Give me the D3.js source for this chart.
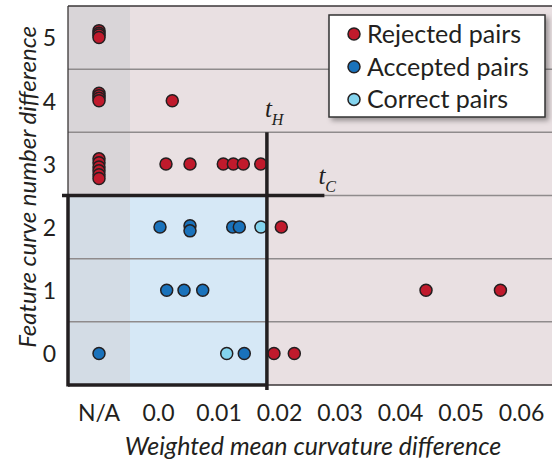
<!DOCTYPE html>
<html><head><meta charset="utf-8">
<script src="https://cdn.jsdelivr.net/npm/d3@7"></script>
<style>body{margin:0;background:#fff}</style>
</head><body>
<svg id="c" width="552" height="465"></svg>
<script>
// ---------- data ----------
const yTicks = [0, 1, 2, 3, 4, 5];
const xTicks = [0, 0.01, 0.02, 0.03, 0.04, 0.05, 0.06];
const xTickLabels = ["0.0", "0.01", "0.02", "0.03", "0.04", "0.05", "0.06"];
const naCategory = ["N/A"];
const tH = 0.018;       // curvature threshold
const tC = 2.5;         // curve-number threshold
const tCLineEnd = 0.0275;
const seriesNames = ["Rejected pairs", "Accepted pairs", "Correct pairs"];

// "NA" = not available (drawn in the N/A column)
const rejectedX = ["NA","NA","NA","NA", "NA","NA","NA","NA", "NA","NA","NA","NA","NA","NA",
  0.00236, 0.00132, 0.00529, 0.01079, 0.01245, 0.0141, 0.01698, 0.02038, 0.0443, 0.0566, 0.01917, 0.02253];
const rejectedY = [5.11, 5.07, 5.04, 5.0, 4.12, 4.08, 4.04, 4.0, 3.08, 3.02, 2.95, 2.89, 2.83, 2.77,
  4, 3, 3, 3, 3, 3, 3, 2, 1, 1, 0, 0];
const acceptedX = ["NA", 0.01426, 0.00144, 0.0043, 0.00739, 0.00033, 0.00529, 0.00529, 0.01235, 0.01344];
const acceptedY = [0, 0, 1, 1, 1, 2, 2.02, 1.94, 2, 2];
const correctX = [0.01136, 0.01702];
const correctY = [0, 2];

// ---------- setup ----------
const svg = d3.select("#c");
const L = 68, R = 552, T = 6, B = 385, naRight = 130;
const x = d3.scaleLinear().domain([0, 0.06]).range([158, 521]);
const xna = d3.scaleBand().domain(naCategory).range([L, naRight]);
const y = d3.scaleLinear().domain([-0.5, 5.5]).range([B, T]);
const px = v => v === "NA" ? xna("N/A") + xna.bandwidth() / 2 : x(v);

const colors = { rej: "#c01a2c", acc: "#1a72bb", cor: "#84d4ee" };
const ink = "#231f20";
const fontSans = "Lato, 'Open Sans', sans-serif";

// defs: legend shadow
const defs = svg.append("defs");
const f = defs.append("filter").attr("id", "sh").attr("x", "-10%").attr("y", "-10%").attr("width", "130%").attr("height", "140%");
f.append("feDropShadow").attr("dx", 3).attr("dy", 3).attr("stdDeviation", 2.5).attr("flood-color", "#000").attr("flood-opacity", 0.35);

// ---------- backgrounds ----------
svg.append("rect").attr("x", L).attr("y", T).attr("width", R - L).attr("height", B - T).attr("fill", "#e9e0e2");
svg.append("rect").attr("x", L).attr("y", y(5.5)).attr("width", naRight - L).attr("height", y(tC) - y(5.5)).attr("fill", "#d9d5d8");
svg.append("rect").attr("x", L).attr("y", y(tC)).attr("width", naRight - L).attr("height", y(-0.5) - y(tC)).attr("fill", "#d3dce5");
svg.append("rect").attr("x", naRight).attr("y", y(tC)).attr("width", x(tH) - naRight).attr("height", y(-0.5) - y(tC)).attr("fill", "#d6e8f6");

// grid lines between rows
svg.append("g").selectAll("line").data([0.5, 1.5, 2.5, 3.5, 4.5]).join("line")
  .attr("x1", L).attr("x2", R).attr("y1", d => y(d)).attr("y2", d => y(d))
  .attr("stroke", "#8f8b8c").attr("stroke-width", 1.5);

// thin frame
svg.append("line").attr("x1", L).attr("x2", R).attr("y1", T).attr("y2", T).attr("stroke", "#3a3637").attr("stroke-width", 1.3);
svg.append("line").attr("x1", L).attr("x2", L).attr("y1", T).attr("y2", y(tC)).attr("stroke", "#3a3637").attr("stroke-width", 1.3);
svg.append("line").attr("x1", L).attr("x2", R).attr("y1", B).attr("y2", B).attr("stroke", "#3a3637").attr("stroke-width", 1.5);

// ---------- points ----------
function drawPts(xs, ys, col) {
  svg.append("g").selectAll("circle").data(xs.map((v, i) => [v, ys[i]])).join("circle")
    .attr("cx", d => px(d[0])).attr("cy", d => y(d[1])).attr("r", 6)
    .attr("fill", col).attr("stroke", ink).attr("stroke-width", 1.5);
}
drawPts(rejectedX, rejectedY, colors.rej);
drawPts(acceptedX, acceptedY, colors.acc);
drawPts(correctX, correctY, colors.cor);

// ---------- threshold box ----------
const thick = 3.5;
svg.append("line").attr("x1", L - 6).attr("x2", x(tCLineEnd)).attr("y1", y(tC)).attr("y2", y(tC)).attr("stroke", ink).attr("stroke-width", thick);
svg.append("line").attr("x1", x(tH)).attr("x2", x(tH)).attr("y1", y(3.5)).attr("y2", B + 5).attr("stroke", ink).attr("stroke-width", thick);
svg.append("line").attr("x1", L).attr("x2", L).attr("y1", y(tC)).attr("y2", B + 1.5).attr("stroke", ink).attr("stroke-width", thick);
svg.append("line").attr("x1", L).attr("x2", x(tH)).attr("y1", B).attr("y2", B).attr("stroke", ink).attr("stroke-width", thick);

// threshold labels
const serif = "'Liberation Serif', 'DejaVu Serif', serif";
const lh = svg.append("text").attr("x", x(tH) - 2).attr("y", 117).attr("font-family", serif).attr("font-style", "italic").attr("font-size", 25).attr("fill", ink);
lh.append("tspan").text("t");
lh.append("tspan").attr("font-size", 16).attr("dy", 8).text("H");
const lc = svg.append("text").attr("x", x(tCLineEnd) - 6).attr("y", 184).attr("font-family", serif).attr("font-style", "italic").attr("font-size", 25).attr("fill", ink);
lc.append("tspan").text("t");
lc.append("tspan").attr("font-size", 16).attr("dy", 8).text("C");

// ---------- axes ----------
const ax = svg.append("g").attr("transform", `translate(0,${B})`)
  .call(d3.axisBottom(x).tickValues(xTicks).tickFormat((d, i) => xTickLabels[i]).tickSize(0));
const axNA = svg.append("g").attr("transform", `translate(0,${B})`)
  .call(d3.axisBottom(xna).tickSize(0));
[ax, axNA].forEach(g => {
  g.select(".domain").remove();
  g.selectAll("text").attr("y", 36).attr("dy", 0).attr("font-family", fontSans).attr("font-size", 23).attr("fill", ink);
});
const ay = svg.append("g").attr("transform", `translate(${L},0)`)
  .call(d3.axisLeft(y).tickValues(yTicks).tickFormat(d3.format("d")).tickSize(0));
ay.select(".domain").remove();
ay.selectAll("text").attr("x", -12).attr("dy", "0.36em").attr("font-family", fontSans).attr("font-size", 23).attr("fill", ink);

// axis titles
svg.append("text").attr("x", 313).attr("y", 455).attr("text-anchor", "middle")
  .attr("font-family", fontSans).attr("font-style", "italic").attr("font-size", 25).attr("fill", ink)
  .text("Weighted mean curvature difference");
svg.append("text").attr("transform", "translate(28,187) rotate(-90)").attr("text-anchor", "middle")
  .attr("font-family", fontSans).attr("font-style", "italic").attr("font-size", 24).attr("fill", ink)
  .attr("dy", "0.35em")
  .text("Feature curve number difference");

// ---------- legend ----------
const lg = svg.append("g").attr("transform", "translate(329,15)");
lg.append("rect").attr("width", 216).attr("height", 102).attr("fill", "#fff").attr("stroke", "#333").attr("stroke-width", 1.5).attr("filter", "url(#sh)");
const legCols = [colors.rej, colors.acc, colors.cor];
const le = lg.selectAll("g.e").data(seriesNames).join("g").attr("class", "e")
  .attr("transform", (d, i) => `translate(0,${19 + i * 32.7})`);
le.append("circle").attr("cx", 25).attr("cy", 0).attr("r", 6).attr("fill", (d, i) => legCols[i]).attr("stroke", ink).attr("stroke-width", 1.5);
le.append("text").attr("x", 38).attr("y", 0).attr("dy", "0.36em").attr("font-family", fontSans).attr("font-size", 25).attr("fill", ink).text(d => d);
</script>
</body></html>
